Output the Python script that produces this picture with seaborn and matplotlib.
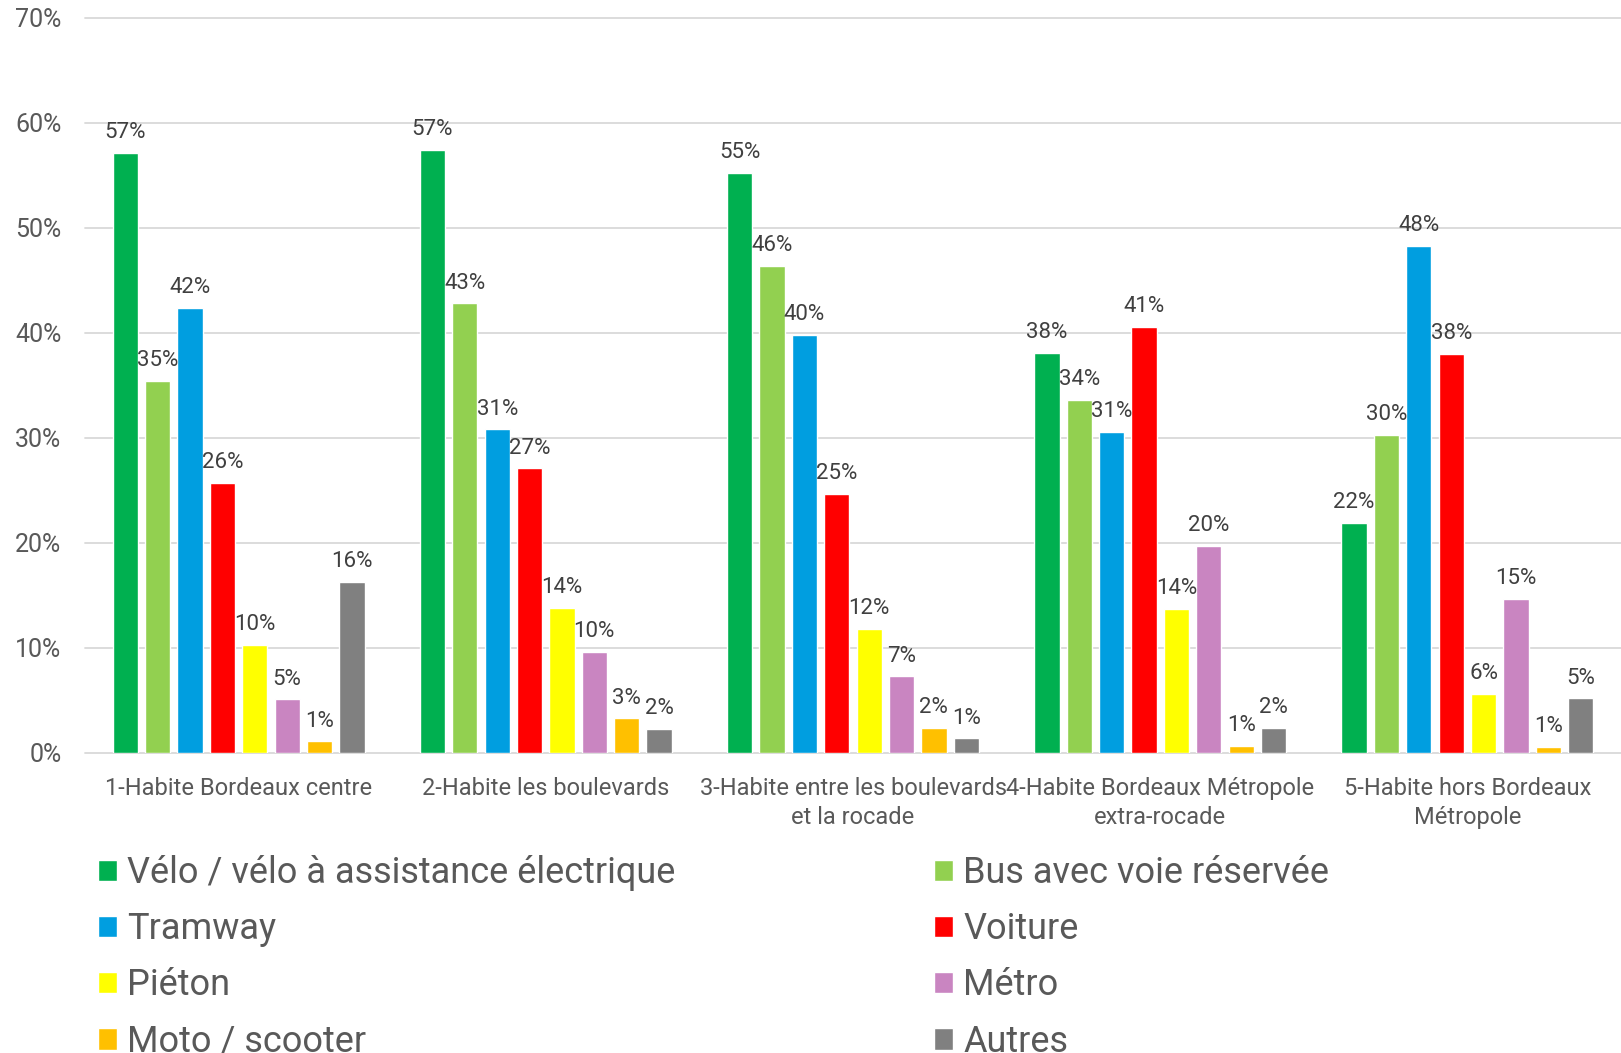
import matplotlib
matplotlib.use("Agg")
import matplotlib.pyplot as plt
import seaborn as sns
import pandas as pd
from matplotlib.ticker import FuncFormatter, MultipleLocator

# Zones of residence (x categories)
zones = [
    "1-Habite Bordeaux centre",
    "2-Habite les boulevards",
    "3-Habite entre les boulevards\net la rocade",
    "4-Habite Bordeaux Métropole\nextra-rocade",
    "5-Habite hors Bordeaux\nMétropole",
]

# Transport modes (hue)
modes = [
    "Vélo / vélo à assistance électrique",
    "Bus avec voie réservée",
    "Tramway",
    "Voiture",
    "Piéton",
    "Métro",
    "Moto / scooter",
    "Autres",
]

# Share of respondents (%) per zone, one list per mode
velo = [57.1, 57.4, 55.2, 38.1, 21.9]
bus = [35.4, 42.8, 46.4, 33.6, 30.3]
tramway = [42.4, 30.8, 39.8, 30.6, 48.3]
voiture = [25.7, 27.1, 24.7, 40.6, 38.0]
pieton = [10.3, 13.8, 11.8, 13.7, 5.6]
metro = [5.1, 9.6, 7.3, 19.7, 14.7]
moto = [1.1, 3.3, 2.4, 0.7, 0.6]
autres = [16.3, 2.3, 1.4, 2.4, 5.2]

colors = ["#00B050", "#92D050", "#009EE0", "#FF0000",
          "#FFFF00", "#C985C1", "#FFC000", "#808080"]

series = [velo, bus, tramway, voiture, pieton, metro, moto, autres]
rows = []
for mode, vals in zip(modes, series):
    for zone, v in zip(zones, vals):
        rows.append({"zone": zone, "mode": mode, "pct": v})
df = pd.DataFrame(rows)

sns.set_style("white")
plt.rcParams["font.family"] = ["Roboto", "DejaVu Sans"]
TEXT = "#595959"

W, H = 1621, 1053
fig = plt.figure(figsize=(W / 100, H / 100), dpi=100)
ax = fig.add_axes([85 / W, 1 - 753 / H, (W - 85) / W, (753 - 17.7) / H])

sns.barplot(data=df, x="zone", y="pct", hue="mode", order=zones,
            hue_order=modes, palette=colors, saturation=1, width=0.843,
            errorbar=None, ax=ax)

# leave a small gap between neighbouring bars
for bar in ax.patches:
    w = bar.get_width()
    bar.set_x(bar.get_x() + w * 0.11)
    bar.set_width(w * 0.78)

for cont in ax.containers:
    ax.bar_label(cont, labels=[f"{int(v + 0.5)}%" for v in cont.datavalues],
                 padding=7, fontsize=16, color="#404040")

ax.set_ylim(0, 70)
ax.set_xlim(-0.5, 4.5)
ax.yaxis.set_major_locator(MultipleLocator(10))
ax.yaxis.set_major_formatter(FuncFormatter(lambda v, _: f"{int(v)}%"))
ax.yaxis.grid(True, color="#d9d9d9", linewidth=1.3)
for gl in ax.get_ygridlines():
    gl.set_clip_on(False)
ax.set_axisbelow(True)
sns.despine(ax=ax, left=True, bottom=True)
ax.tick_params(axis="y", length=0, pad=17, labelsize=18, labelcolor=TEXT)
ax.tick_params(axis="x", length=0, pad=17, labelsize=17, labelcolor=TEXT)
for t in ax.get_xticklabels():
    t.set_linespacing(1.35)
ax.set_xlabel("")
ax.set_ylabel("")

# two-column legend laid out row by row
leg = ax.get_legend()
handles = leg.legend_handles
labels = [t.get_text() for t in leg.texts]
leg.remove()

common = dict(loc="upper left", frameon=False, fontsize=26, labelcolor=TEXT,
              handlelength=0.53, handleheight=0.53, handletextpad=0.28,
              labelspacing=0.56, borderpad=0, borderaxespad=0)
left_idx = [0, 2, 4, 6]
right_idx = [1, 3, 5, 7]
top = 1 - 855 / H
leg1 = fig.legend([handles[i] for i in left_idx], [labels[i] for i in left_idx],
                  bbox_to_anchor=(98 / W, top), **common)
leg2 = fig.legend([handles[i] for i in right_idx], [labels[i] for i in right_idx],
                  bbox_to_anchor=(934 / W, top), **common)

fig.savefig("out.png", dpi=100, facecolor="white")
